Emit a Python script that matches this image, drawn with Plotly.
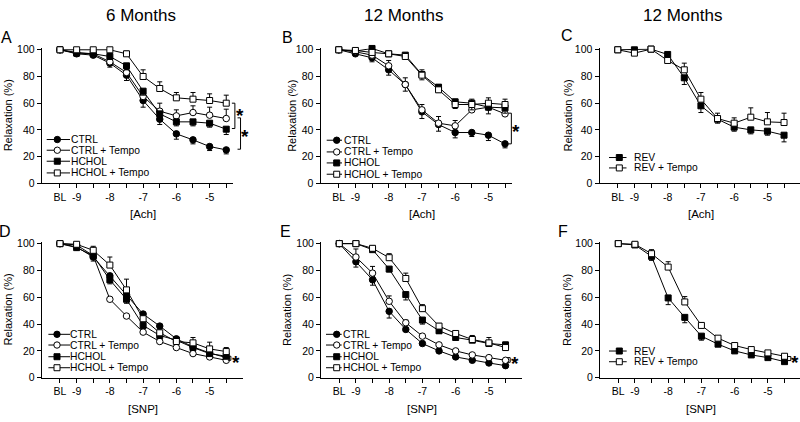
import plotly.graph_objects as go

W, H = 800, 422
FONT = "Liberation Sans, Arial, sans-serif"

# log molar concentration, BL = baseline
DOSE = [-9.5, -9.0, -8.5, -8.0, -7.5, -7.0, -6.5, -6.0, -5.5, -5.0, -4.5]
TICK_TEXT = ["BL", "-9", "", "-8", "", "-7", "", "-6", "", "-5", ""]
Y_TICKS = [0, 20, 40, 60, 80, 100]

# A - 6 months, Ach
A_CTRL = [100, 97, 96, 90, 81, 62, 48, 37, 32.5, 27.5, 25]
A_CTRL_ERR = [0, 1, 1, 3, 4, 5, 4, 4, 3, 3, 3]
A_CTRL_T = [100, 98, 97, 91, 83, 65, 54, 50.5, 53, 51, 48.5]
A_CTRL_T_ERR = [0, 1, 1, 3, 3, 4, 6, 4.5, 5, 6, 7]
A_HCHOL = [100, 97.5, 97, 95, 88, 69, 52, 46, 46, 45, 40.5]
A_HCHOL_ERR = [0, 1, 1, 2, 3, 3, 3, 3, 3, 3, 4]
A_HCHOL_T = [100, 100, 100, 100, 97, 80, 71, 64, 63, 62, 60]
A_HCHOL_T_ERR = [0, 1, 1, 1, 2, 5, 5, 4, 5, 5, 6]

# B - 12 months, Ach
B_CTRL = [100, 97, 94, 85, 74, 53.5, 44, 38, 38, 36, 29.5]
B_CTRL_ERR = [0, 1, 3, 4, 5, 5, 5, 4, 3, 4, 3]
B_CTRL_T = [100, 98.5, 96, 88, 74, 55, 45, 43, 55, 57, 52]
B_CTRL_T_ERR = [0, 1, 2, 4, 5, 4, 5, 4, 3, 3, 2]
B_HCHOL = [100, 99, 101, 97, 96, 81.5, 72, 61, 60, 57, 56.5]
B_HCHOL_ERR = [0, 1, 1, 1, 2, 4, 4, 5, 5, 5, 4]
B_HCHOL_T = [100, 99.5, 98, 97, 95, 81, 70, 59, 59, 60, 59]
B_HCHOL_T_ERR = [0, 1, 1, 1, 2, 4, 4, 4, 4, 4, 4]

# C - 12 months, Ach, reversal
C_REV = [100, 100, 100.5, 96.5, 79, 58, 48, 42, 40, 39, 36]
C_REV_ERR = [0, 1, 1, 2, 5, 5, 3, 3, 3, 3, 5]
C_REV_T = [100, 97.5, 100.5, 92, 85, 63, 48.5, 45, 49.5, 46, 45.5]
C_REV_T_ERR = [0, 1, 1, 2, 5, 5, 4, 4, 7, 7, 7]

# D - 6 months, SNP
D_CTRL = [100, 97.5, 90, 76, 62, 47.5, 38.5, 29, 23, 18.5, 15]
D_CTRL_ERR = [0, 1, 3, 5, 4, 2, 2, 1, 1, 1, 1]
D_CTRL_T = [100, 99, 91, 58.5, 46, 34, 27, 22.5, 18, 15.5, 13]
D_CTRL_T_ERR = [0, 1, 1, 1, 1, 1, 1, 1, 1, 1, 1]
D_HCHOL = [100, 97, 91, 73, 58.5, 39, 31.5, 28, 22.5, 18, 16]
D_HCHOL_ERR = [0, 1, 2, 3, 3, 2, 2, 1, 1, 1, 1]
D_HCHOL_T = [100, 99.5, 95, 84, 65.5, 44, 33.5, 27, 26, 21.5, 19.5]
D_HCHOL_T_ERR = [0, 1, 3, 6, 8, 2, 2, 2, 4, 5, 3]

# E - 12 months, SNP
E_CTRL = [100, 86.5, 73, 49.5, 36, 25.5, 20, 15.5, 13, 11, 9]
E_CTRL_ERR = [0, 4, 4, 5, 1, 1, 1, 1, 1, 1, 1]
E_CTRL_T = [100, 90, 78, 57, 41, 31, 24.5, 20, 17, 15, 13]
E_CTRL_T_ERR = [0, 6, 5, 4, 2, 1, 1, 1, 1, 1, 1]
E_HCHOL = [100, 100, 95.5, 81, 62, 43, 35, 30, 28, 25.5, 24.5]
E_HCHOL_ERR = [0, 1, 1, 2, 4, 3, 2, 1, 1, 1, 1]
E_HCHOL_T = [100, 100, 96.5, 89.5, 74, 51.5, 38.5, 33, 28.5, 26, 22.5]
E_HCHOL_T_ERR = [0, 1, 2, 3, 4, 3, 2, 1, 3, 4, 4]

# F - 12 months, SNP, reversal
F_REV = [100, 99, 90.5, 59.5, 45, 31, 25, 20, 17, 15, 12]
F_REV_ERR = [0, 1, 3, 5, 4, 3, 1, 1, 1, 1, 1]
F_REV_T = [100, 99.5, 92.5, 82.5, 56.5, 39, 29.5, 24, 21, 18.5, 16]
F_REV_T_ERR = [0, 1, 3, 4, 4, 2, 1, 1, 1, 1, 1]

# name -> (symbol, filled, error direction)
STYLE = {
    "CTRL": ("circle", True, "down"),
    "CTRL + Tempo": ("circle", False, "up"),
    "HCHOL": ("square", True, "down"),
    "HCHOL + Tempo": ("square", False, "up"),
    "REV": ("square", True, "down"),
    "REV + Tempo": ("square", False, "up"),
}

X0 = -10.05          # left end of every x axis
PX_UNIT = 33.25      # pixels per log unit
ROWS = {0: (183.0, 1.37), 1: (382.7, 1.377)}   # y px of zero, px per %

panels = [
    dict(letter="A", row=0, left=41.7, x1=-4.3, xtitle="[Ach]", month="6 Months",
         series=[("CTRL", A_CTRL, A_CTRL_ERR), ("CTRL + Tempo", A_CTRL_T, A_CTRL_T_ERR),
                 ("HCHOL", A_HCHOL, A_HCHOL_ERR), ("HCHOL + Tempo", A_HCHOL_T, A_HCHOL_T_ERR)],
         brackets=[(-4.24, 60, 41, -4.1, 54), (-4.07, 49, 25.5, -3.93, 38)],
         leg=(5, 15.6, 28.3, 28.5, [43.7, 33, 22, 10.3]),
         letter_px=(6, 33), ytitle_px=7.5),
    dict(letter="B", row=0, left=320.5, x1=-4.3, xtitle="[Ach]", month="12 Months",
         series=[("CTRL", B_CTRL, B_CTRL_ERR), ("CTRL + Tempo", B_CTRL_T, B_CTRL_T_ERR),
                 ("HCHOL", B_HCHOL, B_HCHOL_ERR), ("HCHOL + Tempo", B_HCHOL_T, B_HCHOL_T_ERR)],
         brackets=[(-4.31, 52.5, 29.5, -4.16, 42)],
         leg=(6.2, 16.2, 21.5, 22.5, [43, 31.3, 20.3, 9]),
         letter_px=(287, 33), ytitle_px=292),
    dict(letter="C", row=0, left=599.5, x1=None, xtitle="[Ach]", month="12 Months",
         series=[("REV", C_REV, C_REV_ERR), ("REV + Tempo", C_REV_T, C_REV_T_ERR)],
         brackets=[],
         leg=(9.5, 19.8, 27, 33.5, [25.7, 15.3]),
         letter_px=(567, 31), ytitle_px=567.7),
    dict(letter="D", row=1, left=41.7, x1=-4.0, xtitle="[SNP]", month=None,
         series=[("CTRL", D_CTRL, D_CTRL_ERR), ("CTRL + Tempo", D_CTRL_T, D_CTRL_T_ERR),
                 ("HCHOL", D_HCHOL, D_HCHOL_ERR), ("HCHOL + Tempo", D_HCHOL_T, D_HCHOL_T_ERR)],
         brackets=[(-4.36, 16, 13, -4.2, 14.5)],
         leg=(6.7, 15.3, 28.3, 27.5, [43.4, 32.7, 21, 10]),
         letter_px=(5, 233), ytitle_px=7.5),
    dict(letter="E", row=1, left=321, x1=-4.0, xtitle="[SNP]", month=None,
         series=[("CTRL", E_CTRL, E_CTRL_ERR), ("CTRL + Tempo", E_CTRL_T, E_CTRL_T_ERR),
                 ("HCHOL", E_HCHOL, E_HCHOL_ERR), ("HCHOL + Tempo", E_HCHOL_T, E_HCHOL_T_ERR)],
         brackets=[(-4.36, 15, 11.5, -4.22, 13.5)],
         leg=(5, 15.7, 20.7, 21, [43.4, 32.7, 21, 10]),
         letter_px=(285, 233), ytitle_px=287),
    dict(letter="F", row=1, left=600, x1=None, xtitle="[SNP]", month=None,
         series=[("REV", F_REV, F_REV_ERR), ("REV + Tempo", F_REV_T, F_REV_T_ERR)],
         brackets=[(-4.31, 15.8, 12.8, -4.18, 14.5)],
         leg=(9, 19.3, 26.7, 33, [26.7, 16]),
         letter_px=(563, 233), ytitle_px=567),
]
MONTH_X = {"A": 141, "B": 403, "C": 682}

fig = go.Figure()
layout = dict(width=W, height=H, margin=dict(l=0, r=0, t=0, b=0), autosize=False,
              paper_bgcolor="white", plot_bgcolor="white", showlegend=False,
              font=dict(family=FONT, color="black"))

for i, p in enumerate(panels, start=1):
    sfx = "" if i == 1 else str(i)
    xid, yid = "x" + sfx, "y" + sfx
    y0px, ypu = ROWS[p["row"]]
    y_top = 101
    left = p["left"]
    if p["x1"] is None:
        right = W
        x1 = X0 + (right - left) / PX_UNIT
    else:
        x1 = p["x1"]
        right = left + (x1 - X0) * PX_UNIT
    top_px = y0px - y_top * ypu
    layout["xaxis" + sfx] = dict(
        domain=[left / W, right / W], range=[X0, x1], anchor=yid,
        tickvals=DOSE, ticktext=TICK_TEXT, ticks="outside", ticklen=4, tickwidth=1,
        tickcolor="black", showline=True, linecolor="black", linewidth=1,
        showgrid=False, zeroline=False, tickfont=dict(size=10.5, family=FONT))
    layout["yaxis" + sfx] = dict(
        domain=[(H - y0px) / H, (H - top_px) / H], range=[0, y_top], anchor=xid,
        tickvals=Y_TICKS, ticks="outside", ticklen=4, tickwidth=1, tickcolor="black",
        showline=True, linecolor="black", linewidth=1, showgrid=False, zeroline=False,
        tickfont=dict(size=10.5, family=FONT))

    for name, vals, err in p["series"]:
        sym, filled, direction = STYLE[name]
        zeros = [0] * len(err)
        fig.add_trace(go.Scatter(
            x=DOSE, y=vals, name=name, mode="lines+markers", xaxis=xid, yaxis=yid,
            cliponaxis=False,
            line=dict(color="black", width=1),
            marker=dict(symbol=sym, size=6.5 if sym == "circle" else 6,
                        color="black" if filled else "white",
                        line=dict(color="black", width=1)),
            error_y=dict(type="data", symmetric=False,
                         array=err if direction == "up" else zeros,
                         arrayminus=err if direction == "down" else zeros,
                         color="black", thickness=1, width=2.5)))

    xdom = xid + " domain"
    ydom = yid + " domain"

    def frac(xv):
        return (xv - X0) / (x1 - X0)

    # significance brackets
    for bx, by0, by1, sx, sy in p["brackets"]:
        fig.add_shape(type="path", xref=xdom, yref=yid, xsizemode="pixel", xanchor=frac(bx),
                      path=f"M-3,{by0} L0,{by0} L0,{by1} L-3,{by1}",
                      line=dict(color="black", width=1))
        fig.add_annotation(xref=xdom, yref=yid, x=frac(sx), y=sy, text="<b>*</b>",
                           showarrow=False, xanchor="center", yanchor="middle", yshift=-4,
                           font=dict(size=19, family=FONT))

    # hand-built legend
    lx0, mx, lx1, tx, rows = p["leg"]
    for (name, _, _), dy in zip(p["series"], rows):
        sym, filled, _ = STYLE[name]
        common = dict(xref=xdom, yref=ydom, xsizemode="pixel", ysizemode="pixel",
                      xanchor=0, yanchor=0)
        fig.add_shape(type="line", x0=lx0, x1=lx1, y0=dy, y1=dy,
                      line=dict(color="black", width=1), **common)
        r = 3.2 if sym == "circle" else 3
        fig.add_shape(type="circle" if sym == "circle" else "rect",
                      x0=mx - r, x1=mx + r, y0=dy - r, y1=dy + r,
                      fillcolor="black" if filled else "white",
                      line=dict(color="black", width=1), **common)
        fig.add_annotation(xref=xdom, yref=ydom, x=0, y=0, xshift=tx, yshift=dy,
                           xanchor="left", yanchor="middle", text=name, showarrow=False,
                           borderpad=0, font=dict(size=10.3, family=FONT))

    # axis titles
    fig.add_annotation(xref=xid, yref=ydom, x=-7.0, y=0, yshift=-31, text=p["xtitle"],
                       showarrow=False, xanchor="center", yanchor="middle",
                       font=dict(size=11.5, family=FONT))
    fig.add_annotation(xref="paper", yref="paper", x=p["ytitle_px"] / W,
                       y=(H - (y0px + top_px) / 2) / H, text="Relaxation (%)", textangle=-90,
                       showarrow=False, xanchor="center", yanchor="middle",
                       font=dict(size=11, family=FONT))
    # panel letter
    lxp, lyp = p["letter_px"]
    fig.add_annotation(xref="paper", yref="paper", x=lxp / W, y=1 - lyp / H, text=p["letter"],
                       showarrow=False, xanchor="center", yanchor="middle",
                       font=dict(size=16, family=FONT))
    if p["month"]:
        fig.add_annotation(xref="paper", yref="paper", x=MONTH_X[p["letter"]] / W, y=1 - 11 / H,
                           text=p["month"], showarrow=False, xanchor="center",
                           yanchor="middle", font=dict(size=17, family=FONT))

fig.update_layout(**layout)
# page body has an 8px default margin; drop it so the figure fills the window
fig.write_html("out.html", config={"displayModeBar": False},
               post_script="document.body.style.margin='0';")
